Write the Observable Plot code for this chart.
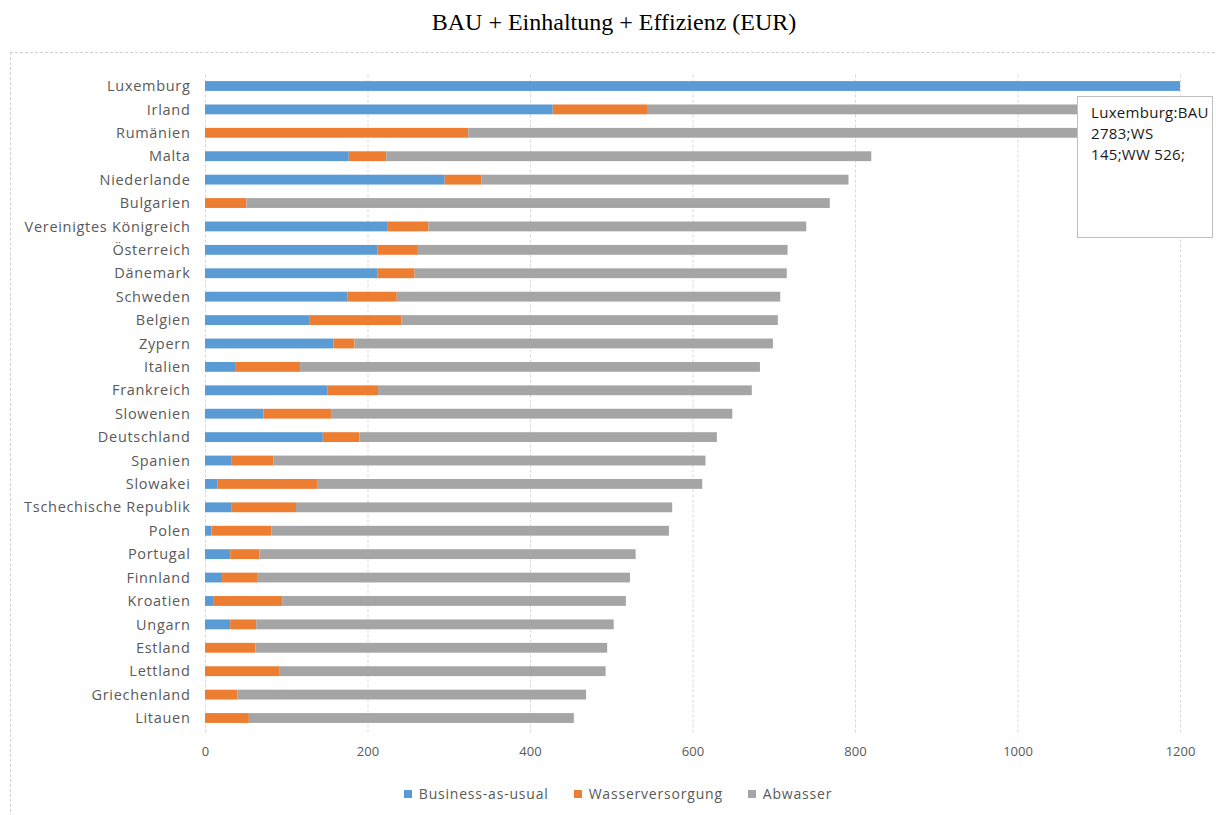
<!DOCTYPE html>
<html>
<head>
<meta charset="utf-8">
<script src="https://cdn.jsdelivr.net/npm/d3@7"></script>
<script src="https://cdn.jsdelivr.net/npm/@observablehq/plot@0.6"></script>
<style>
  html, body { margin: 0; padding: 0; background: #fff; }
  body { position: relative; width: 1216px; height: 815px; overflow: hidden; font-family: "Open Sans", "Noto Sans", sans-serif; }
  #title { position: absolute; top: 9px; left: 6px; width: 1216px; text-align: center; font-family: "Liberation Serif", "Times New Roman", serif; font-size: 24px; color: #000; }
  #frame { position: absolute; left: 10px; top: 52px; width: 1210px; height: 770px; border: 1px dashed #d0d0d0; box-sizing: border-box; }
  #chart { position: absolute; left: 0; top: 52px; }
  #chart svg g[aria-label="y-axis tick label"] text { letter-spacing: 0.7px; }
  #legend { position: absolute; top: 784px; left: 10px; width: 1216px; display: flex; justify-content: center; gap: 25px; font-size: 14px; letter-spacing: 0.8px; color: #595959; }
  #legend .item { display: flex; align-items: center; gap: 7px; }
  #legend .sw { width: 8px; height: 8px; display: inline-block; }
  #tip { position: absolute; left: 1077px; top: 96px; width: 136px; height: 142px; box-sizing: border-box; border: 1px solid #bfbfbf; background: #fff; padding: 5px 4px 0 13px; font-size: 15px; letter-spacing: 0.3px; line-height: 21px; color: #1a1a1a; white-space: nowrap; }
</style>
</head>
<body>
<div id="title"></div>
<div id="frame"></div>
<div id="chart"></div>
<div id="legend"></div>
<div id="tip"></div>
<script>
const title = "BAU + Einhaltung + Effizienz (EUR)";
const countries = ["Luxemburg","Irland","Rumänien","Malta","Niederlande","Bulgarien","Vereinigtes Königreich","Österreich","Dänemark","Schweden","Belgien","Zypern","Italien","Frankreich","Slowenien","Deutschland","Spanien","Slowakei","Tschechische Republik","Polen","Portugal","Finnland","Kroatien","Ungarn","Estland","Lettland","Griechenland","Litauen"];
const bau = [2783,428,0,177,295,0,225,212,212,175,129,158,38,151,72,145,33,15,33,8,31,21,10,31,0,0,0,0];
const ws  = [145,116,324,46,45,51,50,50,46,61,113,26,79,62,84,45,51,123,79,74,36,44,85,32,62,92,40,54];
const ww  = [526,620,776,597,452,718,465,455,458,472,463,515,566,460,493,440,532,474,463,489,463,458,423,440,433,401,429,400];
const seriesNames = ["Business-as-usual","Wasserversorgung","Abwasser"];
const seriesColors = ["#5b9bd5","#ed7d31","#a5a5a5"];
const xTicks = [0,200,400,600,800,1000,1200];
const tipIndex = 0;

document.getElementById("title").textContent = title;

const rows = [];
countries.forEach((c, i) => {
  rows.push({country: c, series: seriesNames[0], value: bau[i]});
  rows.push({country: c, series: seriesNames[1], value: ws[i]});
  rows.push({country: c, series: seriesNames[2], value: ww[i]});
});

const chart = Plot.plot({
  width: 1216,
  height: 730,
  marginLeft: 205,
  marginRight: 36,
  marginTop: 15.5,
  marginBottom: 45.5,
  style: { fontFamily: "'Open Sans', 'Noto Sans', sans-serif", color: "#595959", background: "transparent" },
  x: { domain: [0, 1200], ticks: xTicks, label: null, tickFormat: d => String(d) },
  y: { domain: countries, label: null, padding: 0.58, round: false },
  color: { domain: seriesNames, range: seriesColors },
  marks: [
    Plot.ruleX(xTicks, { stroke: "#d9d9d9", strokeDasharray: "3,2", insetTop: 7, insetBottom: 4 }),
    Plot.barX(rows, Plot.stackX({ x: "value", y: "country", fill: "series", order: seriesNames, clip: true })),
    Plot.axisX({ ticks: xTicks, tickSize: 0, tickPadding: 9.5, fontSize: 13, label: null, tickFormat: d => String(d) }),
    Plot.axisY({ tickSize: 0, tickPadding: 15, fontSize: 14.5, label: null })
  ]
});
document.getElementById("chart").appendChild(chart);

const legend = document.getElementById("legend");
seriesNames.forEach((s, i) => {
  const it = document.createElement("div");
  it.className = "item";
  const sw = document.createElement("span");
  sw.className = "sw";
  sw.style.background = seriesColors[i];
  const t = document.createElement("span");
  t.textContent = s;
  it.appendChild(sw); it.appendChild(t);
  legend.appendChild(it);
});

const tip = document.getElementById("tip");
const lines = [countries[tipIndex] + ":BAU", bau[tipIndex] + ";WS", ws[tipIndex] + ";WW " + ww[tipIndex] + ";"];
lines.forEach(l => { const d = document.createElement("div"); d.textContent = l; tip.appendChild(d); });
</script>
</body>
</html>
